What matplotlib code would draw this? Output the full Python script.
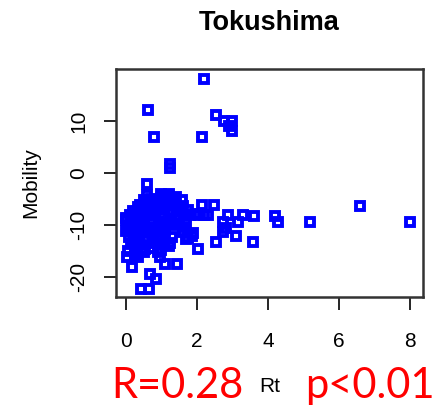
import numpy as np
import matplotlib
matplotlib.use("Agg")
import matplotlib.pyplot as plt

plt.rcParams['font.family'] = 'Liberation Sans'
plt.rcParams['axes.unicode_minus'] = False

# Rt vs mobility
rt = [2.2, 0.61, 2.54, 2.77, 3.0, 2.9, 3.0, 0.8, 2.15, 1.25, 1.25, 0.6,
      4.2, 4.29, 5.18, 6.59, 8.0, 3.57, 2.83,
      1.0, 1.21, 1.0, 1.38, 1.57, 0.44, 0.66, 2.13, 2.49, 2.07, 2.3,
      0.82, 1.05, 1.63, 0.11, 2.88, 3.3, 3.6, 0.93, 1.16, 1.08, 2.74, 3.16,
      0.56, 0.75, 2.74, 3.1, 0.35, 2.55, 0.46, 0.68, 2.04, 0.91, 0.07, 0.25,
      0.04, 0.35, 0.96, 1.1, 1.43, 0.16, 0.68, 0.86, 0.42, 0.66,
      0.5, 0.7, 0.9, 1.2, 1.4, 0.6, 1.1,
      0.4, 0.6, 0.8, 1.1, 1.3, 1.6, 0.95,
      0.2, 0.9, 1.2, 1.5, 0.35, 0.75, 1.75,
      0.3, 0.5, 0.6, 1.3, 1.5, 1.8, 1.95, 0.0, 2.2,
      0.0, 0.2, 0.4, 0.7, 1.4, 1.7, 1.05, 1.25,
      0.1, 0.3, 0.5, 0.8, 1.3, 1.6, 0.65, 1.0,
      0.0, 0.2, 0.4, 0.9, 1.1, 1.6, 1.9, 1.75,
      0.1, 0.3, 0.5, 1.0, 1.3, 1.7, 0.75, 1.85,
      0.2, 0.6, 0.8, 1.1, 0.4, 1.25,
      0.3, 0.9, 1.2, 0.15, 0.55,
      0.5, 0.25, 1.0]
mobility = [18.1, 12.2, 11.2, 10.0, 10.0, 9.0, 8.0, 6.9, 6.9, 1.8, 1.0, -2.0,
            -8.2, -9.4, -9.4, -6.3, -9.4, -13.2, -10.6,
            -4.0, -4.0, -4.7, -5.1, -5.1, -7.0, -7.0, -6.2, -6.2, -8.1, -8.1,
            -8.1, -8.1, -8.1, -8.1, -8.1, -8.1, -8.2, -9.4, -9.4, -10.0, -9.4, -9.4,
            -11.3, -11.9, -11.3, -12.1, -13.2, -13.2, -14.3, -14.3, -14.5, -15.1, -14.9, -14.9,
            -16.2, -16.2, -16.2, -17.5, -17.5, -18.1, -19.3, -20.3, -22.3, -22.3,
            -5.2, -4.9, -5.3, -5.0, -4.6, -4.3, -4.4,
            -6.1, -5.8, -6.3, -6.0, -5.7, -6.4, -5.5,
            -7.2, -6.9, -7.1, -7.3, -6.6, -7.5, -7.0,
            -7.9, -8.2, -8.0, -7.8, -8.3, -8.0, -7.9, -8.6, -8.0,
            -9.1, -8.8, -9.2, -9.0, -8.9, -9.3, -8.7, -9.6,
            -10.2, -9.8, -10.1, -10.3, -9.9, -10.4, -10.6, -10.8,
            -11.1, -10.8, -11.0, -11.2, -10.9, -11.4, -11.6, -12.4,
            -12.2, -11.8, -12.4, -12.0, -12.3, -12.6, -12.8, -12.0,
            -13.1, -12.9, -13.4, -13.0, -13.7, -13.5,
            -14.1, -13.8, -14.0, -13.6, -14.6,
            -15.2, -15.5, -14.7]

fig = plt.figure(figsize=(4.42, 4.08), dpi=100)
ax = fig.add_axes([0.2624, 0.272, 0.6946, 0.559])

ax.plot(rt, mobility, 's', mfc='none', mec='#0000ff', ms=6, mew=2.8)

ax.set_xlim(-0.28, 8.37)
ax.set_ylim(-23.8, 20.0)
ax.set_xticks([0, 2, 4, 6, 8])
ax.set_yticks([-20, -10, 0, 10])
for s in ax.spines.values():
	s.set_linewidth(1.8)
	s.set_color('#333333')
ax.tick_params(length=9, width=1.2, labelsize=15)
ax.tick_params(axis='x', pad=16)
ax.tick_params(axis='y', pad=11)
plt.setp(ax.get_yticklabels(), rotation=90, va='center')

ax.set_title('Tokushima', fontsize=19.5, fontweight='bold', pad=28)
ax.set_ylabel('Mobility', fontsize=15, labelpad=21)

fig.text(270/442, 1 - 387/408, 'Rt', fontsize=15, ha='center', va='center')
fig.text(177/442, 1 - 398/408, 'R=0.28', fontsize=30, color='red',
	family='Lato', ha='center', va='baseline')
fig.text(370/442, 1 - 398/408, 'p<0.01', fontsize=30, color='red',
	family='Lato', ha='center', va='baseline')

fig.savefig('out.png', dpi=100)
